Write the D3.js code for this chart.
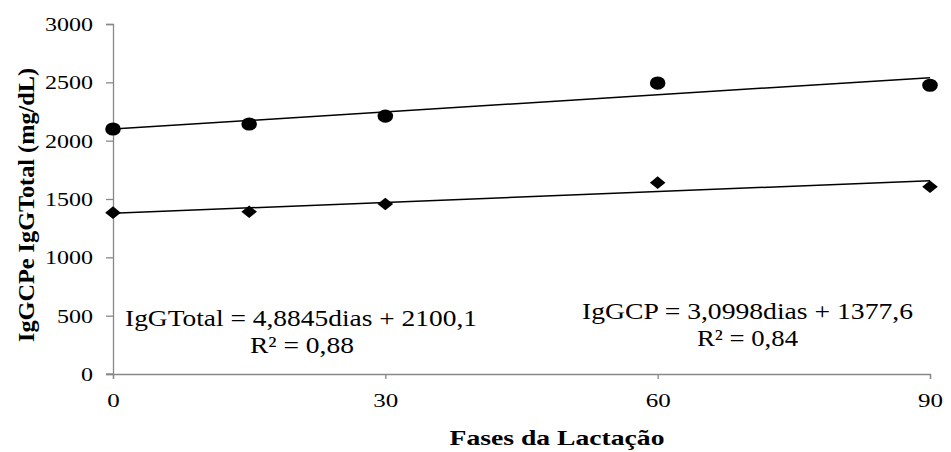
<!DOCTYPE html>
<html>
<head>
<meta charset="utf-8">
<script src="https://cdn.jsdelivr.net/npm/d3@7"></script>
<style>
  html, body { margin: 0; padding: 0; background: #fff; }
  svg { display: block; }
  text { font-family: "Liberation Serif", "Times New Roman", serif; fill: #000; }
</style>
</head>
<body>
<svg id="chart" width="951" height="452"></svg>
<script>
// ---- data ----
const days = [0, 15, 30, 60, 90];
const igGTotal = [2100, 2143, 2211, 2494, 2475];
const igGCP = [1383, 1391, 1457, 1640, 1605];
const xTicks = [0, 30, 60, 90];
const yTicks = [0, 500, 1000, 1500, 2000, 2500, 3000];
const totalFit = { slope: 4.8845, intercept: 2100.1 };
const cpFit = { slope: 3.0998, intercept: 1377.6 };
const eqTotal = ["IgGTotal = 4,8845dias + 2100,1", "R² = 0,88"];
const eqCP = ["IgGCP = 3,0998dias + 1377,6", "R² = 0,84"];
const xTitle = "Fases da Lactação";
const yTitle = "IgGCPe IgGTotal (mg/dL)";

// ---- layout ----
const svg = d3.select("#chart");
const x = d3.scaleLinear().domain([0, 90]).range([113, 930]);
const y = d3.scaleLinear().domain([0, 3000]).range([374, 24]);
const axisColor = "#888888";

// y axis
const yAxis = svg.append("g").attr("transform", `translate(${x(0)},0)`)
  .call(d3.axisLeft(y).tickValues(yTicks).tickSize(7).tickPadding(0).tickFormat(d => d));
yAxis.select(".domain").attr("stroke", axisColor).attr("stroke-width", 1.3);
yAxis.selectAll(".tick line").attr("stroke", axisColor).attr("stroke-width", 1.3);
yAxis.selectAll(".tick text").remove();
yAxis.selectAll(".tick").append("text")
  .attr("x", -20).attr("dy", "0.34em")
  .attr("text-anchor", "end")
  .attr("font-size", 19)
  .attr("textLength", d => String(d).length * 12)
  .attr("lengthAdjust", "spacingAndGlyphs")
  .text(d => d);

// x axis
const xAxis = svg.append("g").attr("transform", `translate(0,${y(0)})`)
  .call(d3.axisBottom(x).tickValues(xTicks).tickSize(5).tickPadding(0).tickFormat(d => d));
xAxis.select(".domain").attr("stroke", axisColor).attr("stroke-width", 1.3);
xAxis.selectAll(".tick line").attr("stroke", axisColor).attr("stroke-width", 1.3);
xAxis.selectAll(".tick text").remove();
xAxis.selectAll(".tick").append("text")
  .attr("y", 33)
  .attr("text-anchor", "middle")
  .attr("font-size", 19)
  .attr("textLength", d => String(d).length * 12.5)
  .attr("lengthAdjust", "spacingAndGlyphs")
  .text(d => d);
// small left extension of x axis at zero (tick)
svg.append("line").attr("x1", x(0) - 7).attr("x2", x(0)).attr("y1", y(0)).attr("y2", y(0))
  .attr("stroke", axisColor).attr("stroke-width", 1.3);

// trend lines
const line = d3.line().x(d => x(d[0])).y(d => y(d[1]));
[totalFit, cpFit].forEach(f => {
  svg.append("path")
    .attr("d", line([[0, f.intercept], [90, f.intercept + f.slope * 90]]))
    .attr("fill", "none").attr("stroke", "#000").attr("stroke-width", 1.5);
});

// circles (IgG Total)
svg.append("g").selectAll("ellipse").data(days).join("ellipse")
  .attr("cx", (d) => x(d)).attr("cy", (d, i) => y(igGTotal[i]))
  .attr("rx", 7.8).attr("ry", 6.6).attr("fill", "#000");

// diamonds (IgG CP)
svg.append("g").selectAll("path").data(days).join("path")
  .attr("transform", (d, i) => `translate(${x(d)},${y(igGCP[i])})`)
  .attr("d", "M0,-6.3 L7.8,0 L0,6.3 L-7.8,0 Z")
  .attr("fill", "#000");

// equations
function eq(lines, x1, b1, w1, x2, b2, w2) {
  svg.append("text").attr("x", x1).attr("y", b1).attr("font-size", 23)
    .attr("textLength", w1).attr("lengthAdjust", "spacingAndGlyphs").text(lines[0]);
  svg.append("text").attr("x", x2).attr("y", b2).attr("font-size", 23)
    .attr("textLength", w2).attr("lengthAdjust", "spacingAndGlyphs").text(lines[1]);
}
eq(eqTotal, 125, 326, 352, 250, 353, 104);
eq(eqCP, 582, 319, 331, 697, 346, 101);

// axis titles
svg.append("text").attr("x", 557).attr("y", 445).attr("text-anchor", "middle")
  .attr("font-size", 22).attr("font-weight", "bold")
  .attr("textLength", 215).attr("lengthAdjust", "spacingAndGlyphs").text(xTitle);
svg.append("text").attr("transform", "translate(34,205) rotate(-90)")
  .attr("text-anchor", "middle")
  .attr("font-size", 24).attr("font-weight", "bold")
  .attr("textLength", 274).attr("lengthAdjust", "spacingAndGlyphs").text(yTitle);
</script>
</body>
</html>
